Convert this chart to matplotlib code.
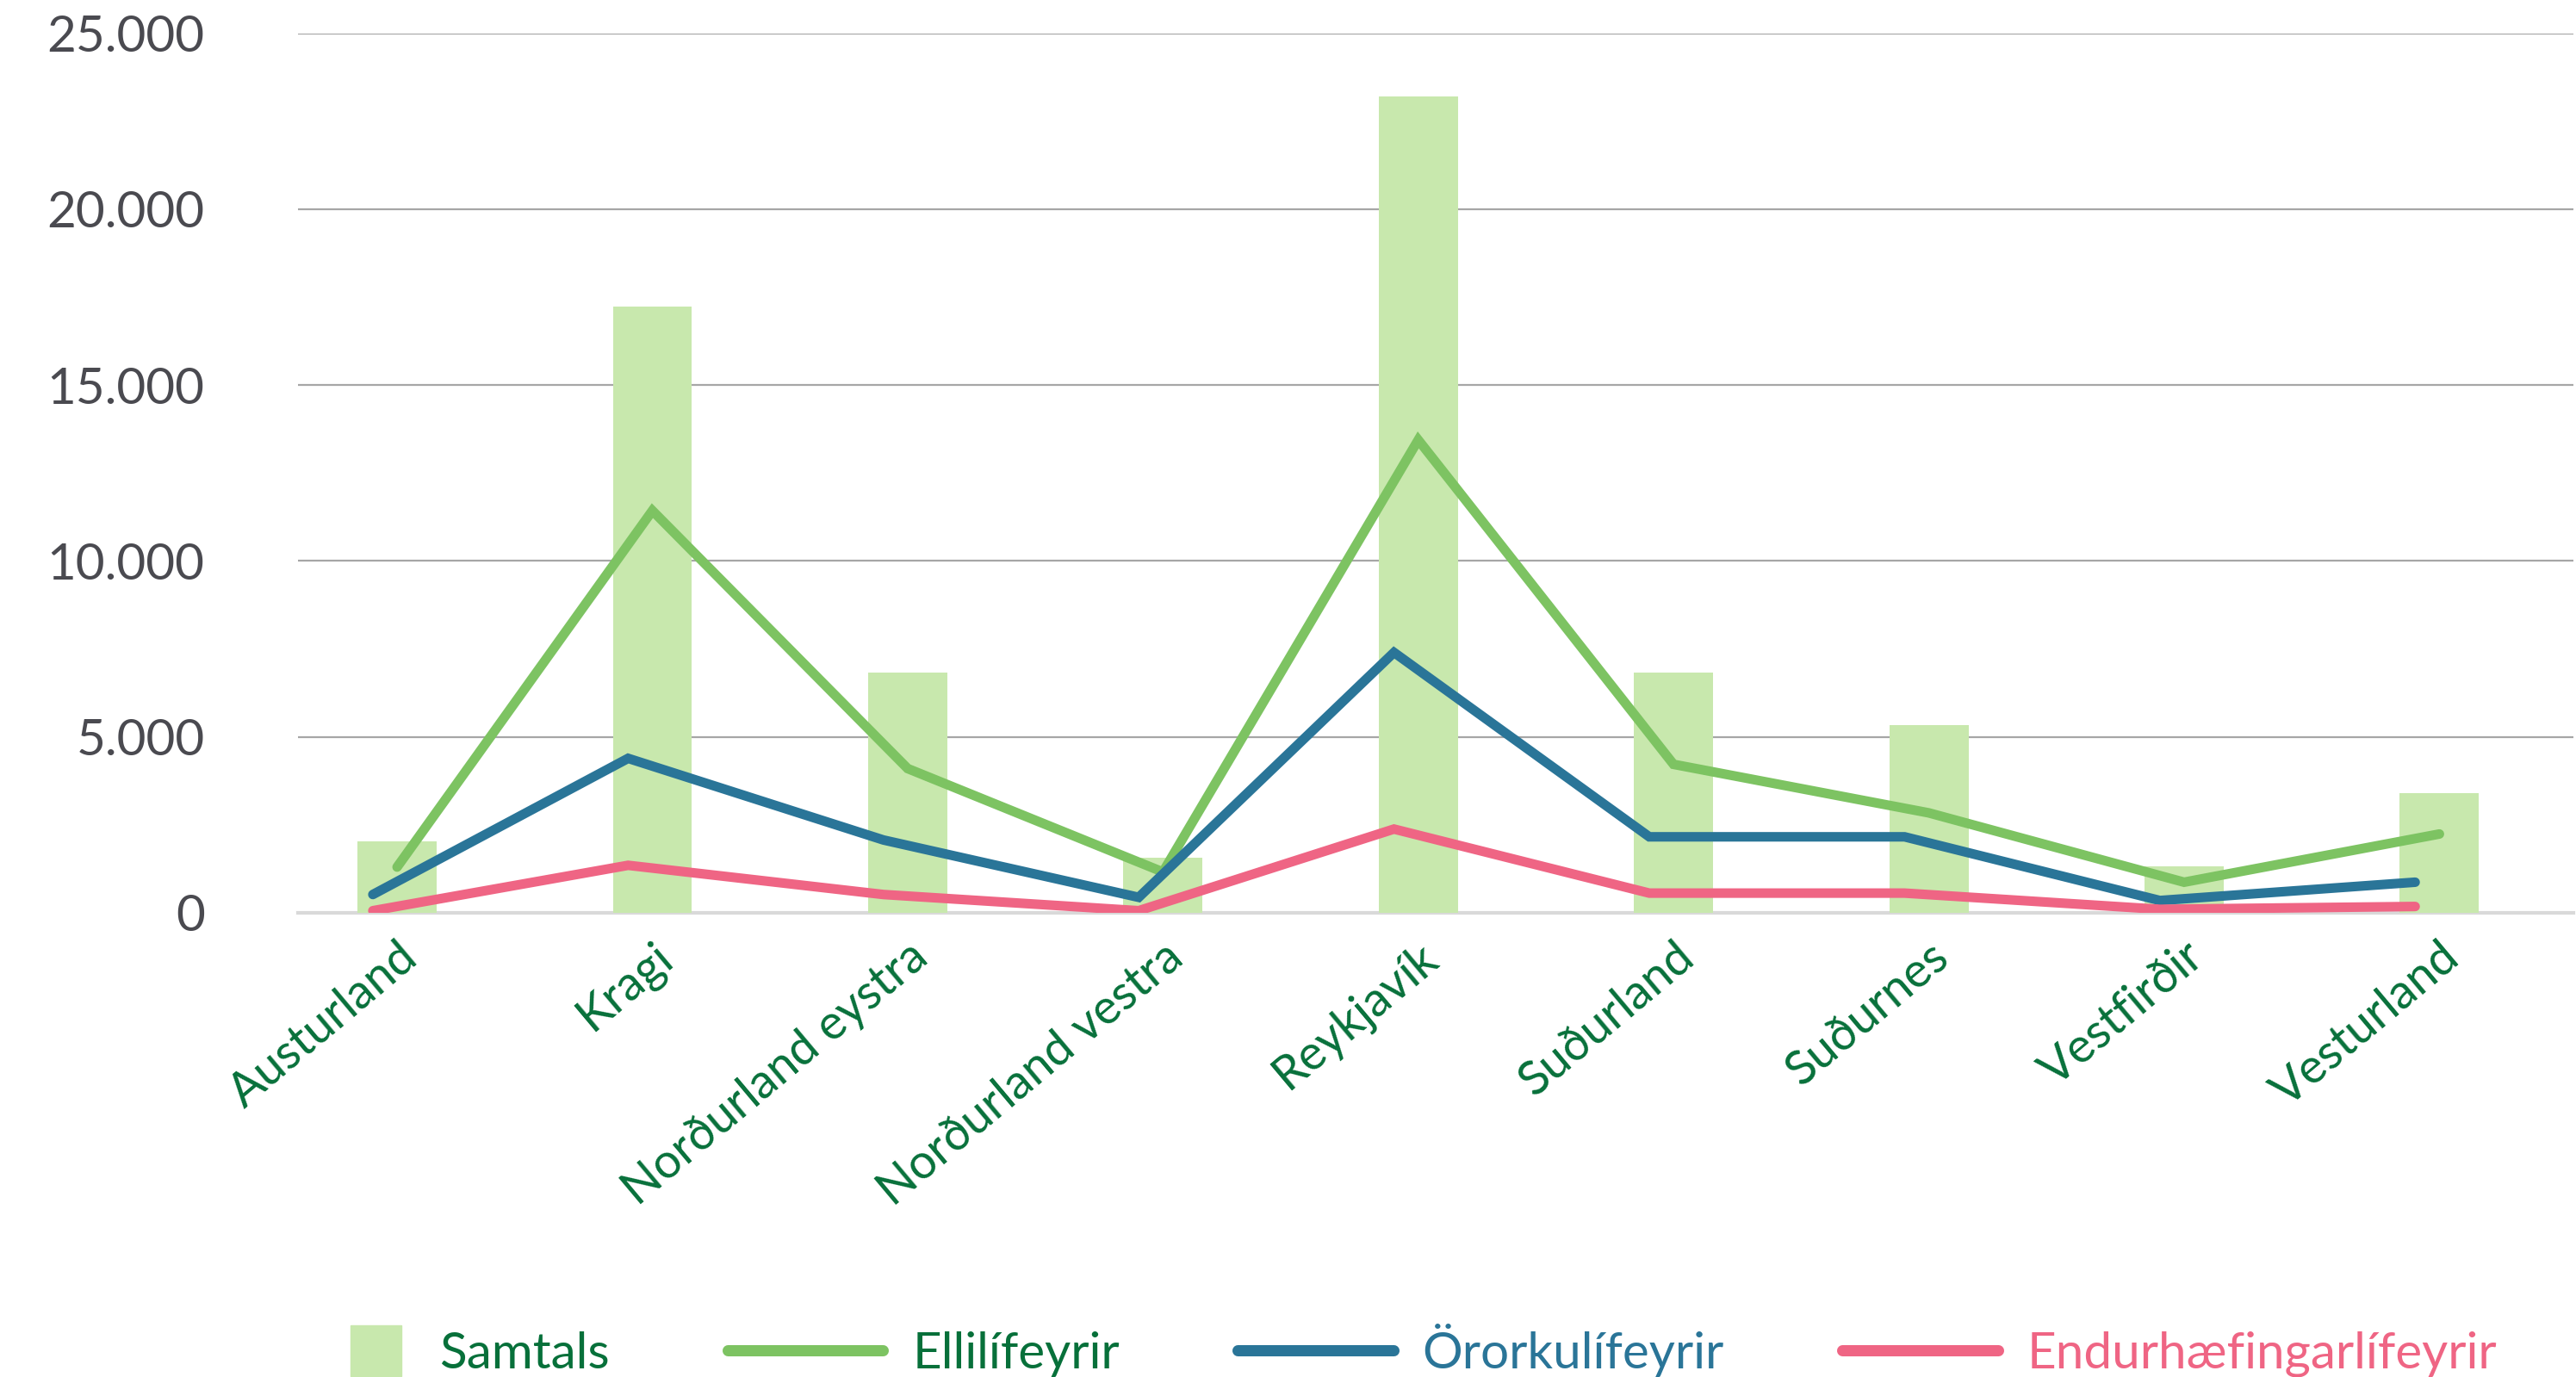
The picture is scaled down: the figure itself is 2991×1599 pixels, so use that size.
import numpy as np
import matplotlib
matplotlib.use("Agg")
from matplotlib import pyplot as plt
from matplotlib.lines import Line2D
import matplotlib.patches as mpatches
from matplotlib.legend_handler import HandlerPatch
from matplotlib.ticker import FuncFormatter

plt.rcParams['font.family'] = ['Lato', 'DejaVu Sans']

svaedi = ["Austurland", "Kragi", "Norðurland eystra", "Norðurland vestra", "Reykjavík",
          "Suðurland", "Suðurnes", "Vestfirðir", "Vesturland"]
samtals = [2020, 17240, 6830, 1560, 23200, 6830, 5340, 1330, 3390]
ellilifeyrir = [1300, 11430, 4100, 1160, 13440, 4220, 2840, 870, 2240]
ororkulifeyrir = [520, 4390, 2070, 440, 7400, 2160, 2160, 350, 870]
endurhaefing = [60, 1350, 520, 60, 2380, 560, 560, 100, 180]

c_bar = "#c8e8ad"
c_green = "#7dc362"
c_blue = "#2a7598"
c_pink = "#ef6584"
c_label = "#07703a"

fig = plt.figure(figsize=(29.91, 15.99), dpi=100)
ax = fig.add_axes([0.1157, 0.3371, 0.8833, 0.6388])

x = np.arange(len(svaedi))
shift = -0.095  # the two lower lines sit a little left of the bars in the original

ax.bar(x, samtals, width=0.31, color=c_bar, zorder=2)
ax.plot(x, ellilifeyrir, color=c_green, lw=8, solid_capstyle='round', solid_joinstyle='miter', zorder=3)
ax.plot(x + shift, ororkulifeyrir, color=c_blue, lw=8, solid_capstyle='round', solid_joinstyle='miter', zorder=4)
ax.plot(x + shift, endurhaefing, color=c_pink, lw=8, solid_capstyle='round', solid_joinstyle='miter', zorder=5)

ax.set_xlim(-0.388, 8.525)
ax.set_ylim(0, 25000)
ax.set_yticks(np.arange(0, 25001, 5000))
ax.yaxis.set_major_formatter(FuncFormatter(lambda v, p: f"{int(v):,}".replace(",", ".")))
ax.grid(axis='y', color="#a6a6a6", lw=1.6)
ax.set_axisbelow(True)
for s in ["top", "right", "left"]:
    ax.spines[s].set_visible(False)
ax.spines["bottom"].set_color("#d9d9d9")
ax.spines["bottom"].set_linewidth(3)
ax.spines["bottom"].set_zorder(1)

ax.tick_params(axis='y', length=0, pad=78, labelsize=42, labelcolor="#4a4a50")
ax.tick_params(axis='x', length=0, pad=18)
ax.set_xticks(x)
ax.set_xticklabels(svaedi, rotation=40, ha='right', va='top', rotation_mode='anchor',
                   fontsize=40, color=c_label)


def samtals_patch(legend, orig_handle, xdescent, ydescent, width, height, fontsize):
    return mpatches.Rectangle((-xdescent + width - 49.5, -ydescent + height / 2 - 21.25), 42.5, 42.5)


handles = [
    mpatches.Patch(color=c_bar, label="Samtals"),
    Line2D([], [], color=c_green, lw=9.4, solid_capstyle='round', label="Ellilífeyrir"),
    Line2D([], [], color=c_blue, lw=9.4, solid_capstyle='round', label="Örorkulífeyrir"),
    Line2D([], [], color=c_pink, lw=9.4, solid_capstyle='round', label="Endurhæfingarlífeyrir"),
]
leg = fig.legend(handles=handles, loc='center', bbox_to_anchor=(0.534, 0.0194), ncol=4,
                 frameon=False, fontsize=42, handlelength=3.1, handletextpad=0.58,
                 columnspacing=2.35, handler_map={mpatches.Patch: HandlerPatch(patch_func=samtals_patch)})
for txt, col in zip(leg.get_texts(), [c_label, c_label, c_blue, c_pink]):
    txt.set_color(col)

fig.savefig("out.png", dpi=100)
